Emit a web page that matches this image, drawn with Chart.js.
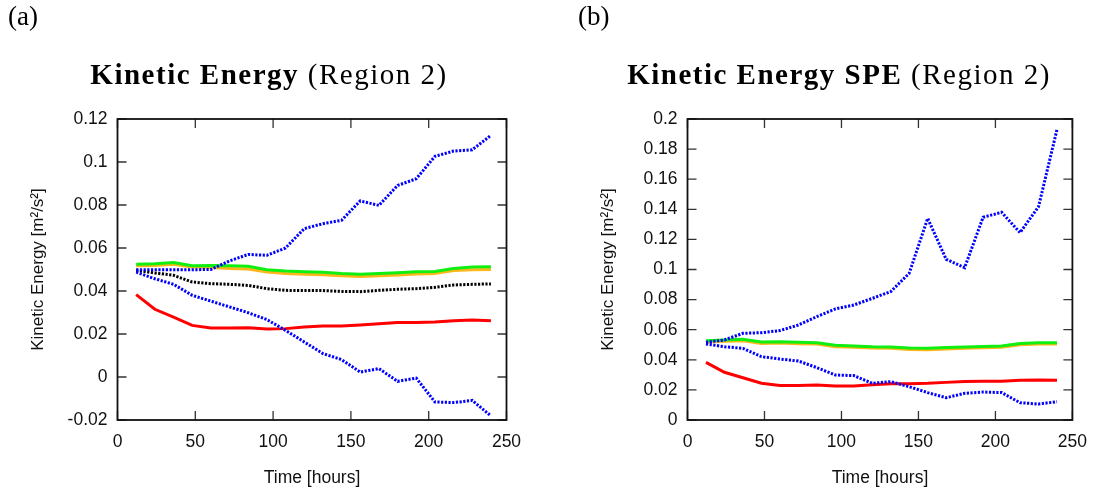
<!DOCTYPE html>
<html>
<head>
<meta charset="utf-8">
<script src="https://cdn.jsdelivr.net/npm/chart.js@4.4.0/dist/chart.umd.min.js"></script>
<style>
  body { margin:0; background:#fff; width:1099px; height:492px; position:relative; overflow:hidden; font-family:"Liberation Serif", serif; color:#000; }
  canvas { position:absolute; top:0; }
  .tag { position:absolute; top:1px; font-size:27px; }
  .title { position:absolute; top:58px; font-size:29px; letter-spacing:1.5px; white-space:nowrap; transform:translateX(-50%); }
</style>
</head>
<body>
<canvas id="chartA" width="549" height="492" style="left:0"></canvas>
<canvas id="chartB" width="529" height="492" style="left:570px"></canvas>
<div class="tag" style="left:8px">(a)</div>
<div class="title" style="left:269px"><b>Kinetic Energy</b> (Region 2)</div>
<div class="tag" style="left:578px">(b)</div>
<div class="title" style="left:839px"><b>Kinetic Energy SPE</b> (Region 2)</div>
<script>
// time axis (hours)
const hours = [12, 24, 36, 48, 60, 72, 84, 96, 108, 120, 132, 144, 156, 168, 180, 192, 204, 216, 228, 240];
const xTicks = [0, 50, 100, 150, 200, 250];
const yTicksA = [-0.02, 0, 0.02, 0.04, 0.06, 0.08, 0.1, 0.12];
const yTicksB = [0, 0.02, 0.04, 0.06, 0.08, 0.1, 0.12, 0.14, 0.16, 0.18, 0.2];

// panel (a)
const greenA  = [0.0524, 0.0527, 0.0533, 0.0518, 0.0519, 0.0518, 0.0515, 0.0499, 0.0493, 0.0490, 0.0487, 0.0481, 0.0478, 0.0481, 0.0485, 0.0490, 0.0491, 0.0505, 0.0512, 0.0513];
const orangeA = [0.0518, 0.0519, 0.0524, 0.0512, 0.0509, 0.0505, 0.0502, 0.0488, 0.0481, 0.0478, 0.0476, 0.0471, 0.0467, 0.0471, 0.0474, 0.0479, 0.0481, 0.0495, 0.0499, 0.0500];
const redA    = [0.0383, 0.0315, 0.0279, 0.0240, 0.0228, 0.0228, 0.0229, 0.0223, 0.0225, 0.0233, 0.0237, 0.0237, 0.0242, 0.0248, 0.0253, 0.0254, 0.0256, 0.0262, 0.0265, 0.0262];
const blackA  = [0.0496, 0.0484, 0.0473, 0.0442, 0.0434, 0.0431, 0.0426, 0.0411, 0.0403, 0.0402, 0.0402, 0.0398, 0.0397, 0.0403, 0.0408, 0.0411, 0.0417, 0.0428, 0.0431, 0.0433];
const blueHiA = [0.0499, 0.0499, 0.0499, 0.0499, 0.0500, 0.0540, 0.0570, 0.0566, 0.0600, 0.0690, 0.0713, 0.0729, 0.0819, 0.0798, 0.0891, 0.0922, 0.1026, 0.1051, 0.1057, 0.1124];
const blueLoA = [0.0488, 0.0457, 0.0431, 0.0380, 0.0353, 0.0326, 0.0299, 0.0267, 0.0217, 0.0163, 0.0109, 0.0081, 0.0023, 0.0039, -0.0020, -0.0005, -0.0116, -0.0119, -0.0109, -0.0181];

// panel (b)
const greenB  = [0.0527, 0.0532, 0.0536, 0.0518, 0.0520, 0.0516, 0.0514, 0.0496, 0.0492, 0.0487, 0.0485, 0.0478, 0.0476, 0.0481, 0.0485, 0.0489, 0.0492, 0.0509, 0.0514, 0.0514];
const orangeB = [0.0519, 0.0523, 0.0527, 0.0509, 0.0511, 0.0507, 0.0505, 0.0487, 0.0483, 0.0478, 0.0476, 0.0469, 0.0467, 0.0472, 0.0476, 0.0480, 0.0483, 0.0500, 0.0505, 0.0505];
const redB    = [0.0383, 0.0317, 0.0281, 0.0244, 0.0230, 0.0230, 0.0233, 0.0226, 0.0226, 0.0235, 0.0241, 0.0241, 0.0244, 0.0250, 0.0255, 0.0257, 0.0257, 0.0264, 0.0266, 0.0264];
const blueHiB = [0.0516, 0.0532, 0.0576, 0.0580, 0.0594, 0.0631, 0.0687, 0.0738, 0.0764, 0.0808, 0.0853, 0.0975, 0.1340, 0.1068, 0.1012, 0.1347, 0.1380, 0.1245, 0.1417, 0.1931];
const blueLoB = [0.0505, 0.0487, 0.0476, 0.0421, 0.0405, 0.0392, 0.0348, 0.0299, 0.0295, 0.0244, 0.0255, 0.0221, 0.0182, 0.0148, 0.0177, 0.0186, 0.0182, 0.0115, 0.0106, 0.0122];

const sans = 'Liberation Sans';
const dots = [2.2, 1.5];

function series(vals, color, dotted) {
  return {
    data: hours.map((h, i) => ({ x: h, y: vals[i] })),
    borderColor: color,
    borderWidth: dotted ? 3 : 3,
    borderDash: dotted ? dots : [],
    pointRadius: 0,
    fill: false,
    tension: 0
  };
}

// inward ticks on all four sides plus the frame, gnuplot style
const frameTicks = {
  id: 'frameTicks',
  afterDatasetsDraw(chart) {
    const { ctx, chartArea: a, scales: { x, y } } = chart;
    const len = 9;
    ctx.save();
    ctx.strokeStyle = '#333';
    ctx.lineWidth = 1.3;
    ctx.beginPath();
    x.ticks.forEach(t => {
      const px = x.getPixelForValue(t.value);
      ctx.moveTo(px, a.bottom); ctx.lineTo(px, a.bottom - len);
      ctx.moveTo(px, a.top); ctx.lineTo(px, a.top + len);
    });
    y.ticks.forEach(t => {
      const py = y.getPixelForValue(t.value);
      ctx.moveTo(a.left, py); ctx.lineTo(a.left + len, py);
      ctx.moveTo(a.right, py); ctx.lineTo(a.right - len, py);
    });
    ctx.stroke();
    ctx.strokeStyle = '#111';
    ctx.lineWidth = 1.8;
    ctx.strokeRect(a.left, a.top, a.right - a.left, a.bottom - a.top);
    ctx.restore();
  }
};

function makeChart(id, datasets, yTicks, padRight) {
  const ctx = document.getElementById(id).getContext('2d');
  return new Chart(ctx, {
    type: 'line',
    data: { datasets: datasets },
    plugins: [frameTicks],
    options: {
      responsive: false,
      animation: false,
      layout: { padding: { top: 119, right: padRight, bottom: 0, left: 0 } },
      plugins: { legend: { display: false }, tooltip: { enabled: false } },
      scales: {
        x: {
          type: 'linear',
          min: xTicks[0],
          max: xTicks[xTicks.length - 1],
          afterBuildTicks: s => { s.ticks = xTicks.map(v => ({ value: v })); },
          afterFit: s => { s.height = 72; },
          grid: { display: false, drawTicks: false },
          border: { display: false },
          ticks: { color: '#111', font: { family: sans, size: 17.5 }, padding: 12, maxRotation: 0, autoSkip: false },
          title: { display: true, text: 'Time [hours]', color: '#111', font: { family: sans, size: 17.5 }, padding: { top: 0, bottom: 3 } }
        },
        y: {
          type: 'linear',
          min: yTicks[0],
          max: yTicks[yTicks.length - 1],
          afterBuildTicks: s => { s.ticks = yTicks.map(v => ({ value: v })); },
          afterFit: s => { s.width = 117.5; },
          grid: { display: false, drawTicks: false },
          border: { display: false },
          ticks: {
            color: '#111', font: { family: sans, size: 17.5 }, padding: 10, autoSkip: false,
            callback: v => String(+v.toFixed(2))
          },
          title: { display: true, text: 'Kinetic Energy [m²/s²]', color: '#111', font: { family: sans, size: 17 }, padding: { top: 28, bottom: 0 } }
        }
      }
    }
  });
}

document.addEventListener('DOMContentLoaded', () => {
  // first dataset ends up on top
  makeChart('chartA', [
    series(blueHiA, '#0000ff', true),
    series(blueLoA, '#0000ff', true),
    series(blackA, '#000000', true),
    series(redA, '#ff0000', false),
    series(greenA, '#11ee11', false),
    series(orangeA, '#ffb619', false)
  ], yTicksA, 42.5);

  makeChart('chartB', [
    series(blueHiB, '#0000ff', true),
    series(blueLoB, '#0000ff', true),
    series(redB, '#ff0000', false),
    series(greenB, '#11ee11', false),
    series(orangeB, '#ffb619', false)
  ], yTicksB, 22.5);
});
</script>
</body>
</html>
